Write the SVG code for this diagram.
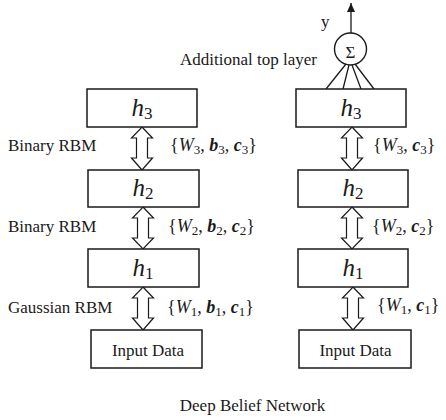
<svg xmlns="http://www.w3.org/2000/svg" width="446" height="420" viewBox="0 0 446 420">
<defs>
<style>
.box{fill:#fff;stroke:#1a1a1a;stroke-width:1.5}
.arr{fill:#fff;stroke:#1a1a1a;stroke-width:1.2;stroke-linejoin:miter}
.ln{stroke:#1a1a1a;stroke-width:1.3;fill:none}
.t{font-family:"Liberation Serif","Times New Roman",serif;font-size:17px;fill:#1a1a1a}
.h{font-family:"Liberation Serif","Times New Roman",serif;font-size:25px;fill:#1a1a1a;text-anchor:middle}
.m{font-family:"Liberation Serif","Times New Roman",serif;font-size:18px;fill:#1a1a1a}
.i{font-style:italic}
.bi{font-style:italic;font-weight:bold}
.s{font-size:13px}
</style>
<marker id="ah" markerWidth="9" markerHeight="8" refX="9" refY="4" orient="auto" markerUnits="userSpaceOnUse" viewBox="0 0 9 8">
<path d="M0,0 L9,4 L0,8 Z" fill="#1a1a1a"/>
</marker>
</defs>
<rect width="446" height="420" fill="#fff"/>

<g id="connectors">
<path class="arr" d="M142,127 L152.5,138 L147.5,138 L147.5,158 L152.5,158 L142,170 L131.5,158 L136.5,158 L136.5,138 L131.5,138 Z"/>
<path class="arr" d="M143,207 L153.5,218 L148.5,218 L148.5,238 L153.5,238 L143,249 L132.5,238 L137.5,238 L137.5,218 L132.5,218 Z"/>
<path class="arr" d="M143,287 L153.5,298 L148.5,298 L148.5,318 L153.5,318 L143,330 L132.5,318 L137.5,318 L137.5,298 L132.5,298 Z"/>
<path class="arr" d="M352,127 L362.5,138 L357.5,138 L357.5,158 L362.5,158 L352,170 L341.5,158 L346.5,158 L346.5,138 L341.5,138 Z"/>
<path class="arr" d="M352,207 L362.5,218 L357.5,218 L357.5,238 L362.5,238 L352,249 L341.5,238 L346.5,238 L346.5,218 L341.5,218 Z"/>
<path class="arr" d="M353,287 L363.5,298 L358.5,298 L358.5,318 L363.5,318 L353,330 L342.5,318 L347.5,318 L347.5,298 L342.5,298 Z"/>
<line class="ln" x1="351" y1="33" x2="351" y2="3" marker-end="url(#ah)"/>
<line class="ln" x1="346" y1="64" x2="326" y2="89"/>
<line class="ln" x1="349" y1="65" x2="343" y2="89"/>
<line class="ln" x1="352" y1="65" x2="361" y2="89"/>
<line class="ln" x1="355" y1="64" x2="374" y2="89"/>
</g>

<g id="sum">
<circle cx="350.5" cy="49" r="16" fill="#fff" stroke="#1a1a1a" stroke-width="1.4"/>
<text x="350.5" y="57.5" class="t" text-anchor="middle" font-size="25">Σ</text>
</g>
<text x="321" y="27" class="t" font-size="19">y</text>
<text x="180" y="65" class="t" font-size="18.5">Additional top layer</text>

<g id="L-h3"><rect class="box" x="87" y="89" width="110" height="38"/><text class="h" x="142" y="116"><tspan class="i">h</tspan><tspan font-size="17" dy="3">3</tspan></text></g>
<g id="L-h2"><rect class="box" x="88" y="170" width="111" height="37"/><text class="h" x="143" y="196"><tspan class="i">h</tspan><tspan font-size="17" dy="3">2</tspan></text></g>
<g id="L-h1"><rect class="box" x="88" y="249" width="111" height="38"/><text class="h" x="143" y="276"><tspan class="i">h</tspan><tspan font-size="17" dy="3">1</tspan></text></g>
<g id="L-in"><rect class="box" x="91" y="330" width="111" height="38"/><text class="t" x="148" y="355.5" text-anchor="middle" font-size="21">Input Data</text></g>

<g id="R-h3"><rect class="box" x="296" y="89" width="110" height="38"/><text class="h" x="351" y="116"><tspan class="i">h</tspan><tspan font-size="17" dy="3">3</tspan></text></g>
<g id="R-h2"><rect class="box" x="298" y="170" width="110" height="37"/><text class="h" x="353" y="196"><tspan class="i">h</tspan><tspan font-size="17" dy="3">2</tspan></text></g>
<g id="R-h1"><rect class="box" x="298" y="249" width="110" height="38"/><text class="h" x="353" y="276"><tspan class="i">h</tspan><tspan font-size="17" dy="3">1</tspan></text></g>
<g id="R-in"><rect class="box" x="299" y="330" width="112" height="38"/><text class="t" x="355.5" y="355.5" text-anchor="middle" font-size="21">Input Data</text></g>

<text class="t" x="8" y="151" font-size="18">Binary RBM</text>
<text class="t" x="8" y="232" font-size="18">Binary RBM</text>
<text class="t" x="8" y="313" font-size="18">Gaussian RBM</text>

<text class="m" x="170" y="151">{<tspan class="i">W</tspan><tspan class="s" dy="3">3</tspan><tspan dy="-3">, </tspan><tspan class="bi">b</tspan><tspan class="s" dy="3">3</tspan><tspan dy="-3">, </tspan><tspan class="bi">c</tspan><tspan class="s" dy="3">3</tspan><tspan dy="-3">}</tspan></text>
<text class="m" x="168" y="232">{<tspan class="i">W</tspan><tspan class="s" dy="3">2</tspan><tspan dy="-3">, </tspan><tspan class="bi">b</tspan><tspan class="s" dy="3">2</tspan><tspan dy="-3">, </tspan><tspan class="bi">c</tspan><tspan class="s" dy="3">2</tspan><tspan dy="-3">}</tspan></text>
<text class="m" x="167" y="313">{<tspan class="i">W</tspan><tspan class="s" dy="3">1</tspan><tspan dy="-3">, </tspan><tspan class="bi">b</tspan><tspan class="s" dy="3">1</tspan><tspan dy="-3">, </tspan><tspan class="bi">c</tspan><tspan class="s" dy="3">1</tspan><tspan dy="-3">}</tspan></text>

<text class="m" x="373" y="151">{<tspan class="i">W</tspan><tspan class="s" dy="3">3</tspan><tspan dy="-3">, </tspan><tspan class="bi">c</tspan><tspan class="s" dy="3">3</tspan><tspan dy="-3">}</tspan></text>
<text class="m" x="372" y="232">{<tspan class="i">W</tspan><tspan class="s" dy="3">2</tspan><tspan dy="-3">, </tspan><tspan class="bi">c</tspan><tspan class="s" dy="3">2</tspan><tspan dy="-3">}</tspan></text>
<text class="m" x="377" y="311">{<tspan class="i">W</tspan><tspan class="s" dy="3">1</tspan><tspan dy="-3">, </tspan><tspan class="bi">c</tspan><tspan class="s" dy="3">1</tspan><tspan dy="-3">}</tspan></text>

<text class="t" x="252.5" y="411" text-anchor="middle" font-size="19">Deep Belief Network</text>
</svg>
